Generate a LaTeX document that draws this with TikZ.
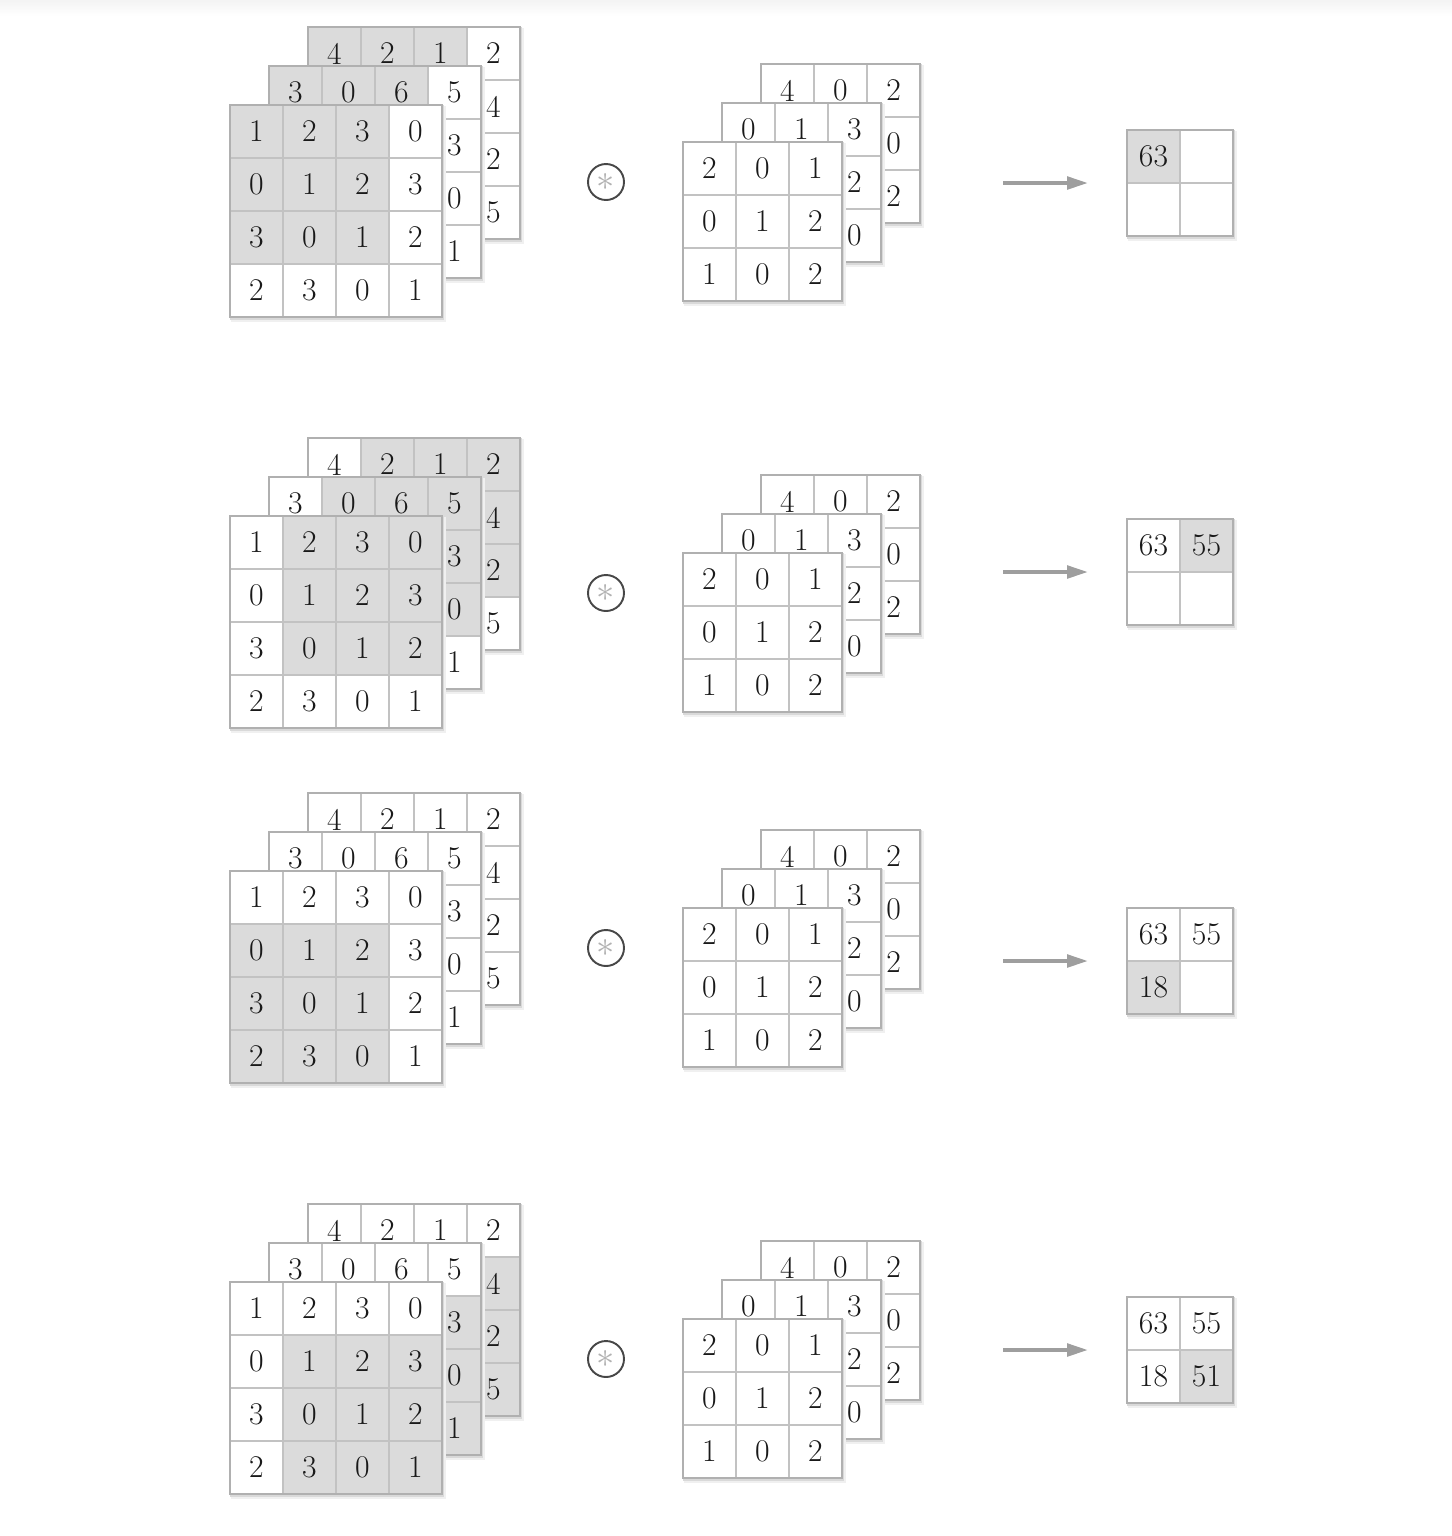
\documentclass[tikz,border=0pt]{standalone}
\usepackage{tikz}
\usetikzlibrary{arrows.meta,positioning}
\definecolor{cellline}{gray}{0.76}
\definecolor{cellshade}{gray}{0.86}
\definecolor{digit}{gray}{0.1}
\tikzset{
  cell/.style={draw=cellline, line width=0.8pt, minimum size=1.06cm,
               inner sep=0pt, text=digit, font=\fontsize{18}{20}\selectfont},
  layeredge/.style={draw=gray!62, line width=0.8pt},
  convop/.style={circle, draw=black!72, line width=1.1pt, minimum size=0.72cm,
                 inner sep=0pt, text=gray!60, font=\huge},
  flowarr/.style={-{Triangle[length=4.2mm, width=2.5mm]}, line width=2.2pt, black!38}
}
% one layer: name, x, y, size, values, shaded rows r1..r2, cols c1..c2
\newcommand{\drawlayer}[9]{%
  \pgfmathsetmacro\side{#4*53}
  \fill[black!6] (#2+1,#3+1) rectangle ++(\side+3,\side+4);
  \fill[black!15] (#2,#3) rectangle ++(\side+1.5,\side+2.5);
  \foreach \val [count=\idx from 0] in {#5} {
    \pgfmathtruncatemacro\ri{floor(\idx/#4)}
    \pgfmathtruncatemacro\ci{\idx-\ri*#4}
    \pgfmathtruncatemacro\sh{(\ri>=#6)&&(\ri<=#7)&&(\ci>=#8)&&(\ci<=#9)}
    \ifnum\sh=1 \def\cf{cellshade}\else\def\cf{white}\fi
    \node[cell, fill=\cf] (#1-\ri-\ci) at (#2+53*\ci+26.5, #3+53*\ri+26.5) {\val};
  }
  \draw[layeredge] (#2,#3) rectangle ++(\side,\side);
}
% input volume: name, y of front layer, shaded window
\newcommand{\inputstack}[6]{%
  \drawlayer{#1c}{308}{#2-78}{4}{4,2,1,2,,,,4,,,,2,,,,5}{#3}{#4}{#5}{#6}
  \drawlayer{#1b}{269}{#2-39}{4}{3,0,6,5,,,,3,,,,0,,,,1}{#3}{#4}{#5}{#6}
  \drawlayer{#1a}{230}{#2}{4}{1,2,3,0,0,1,2,3,3,0,1,2,2,3,0,1}{#3}{#4}{#5}{#6}
}
% filter volume: name, y of front input layer
\newcommand{\kernelstack}[2]{%
  \drawlayer{#1c}{761}{#2-41}{3}{4,0,2,,,0,,,2}{9}{9}{9}{9}
  \drawlayer{#1b}{722}{#2-2}{3}{0,1,3,,,2,,,0}{9}{9}{9}{9}
  \drawlayer{#1a}{683}{#2+37}{3}{2,0,1,0,1,2,1,0,2}{9}{9}{9}{9}
}

\begin{document}
\begin{tikzpicture}[x=0.02cm, y=-0.02cm]
  \useasboundingbox (0,0) rectangle (1452,1536);
  \shade[top color=gray!9, bottom color=white] (0,0) rectangle (1452,16);

  % step 1
  \inputstack{inA}{105}{0}{2}{0}{2}
  \kernelstack{kA}{105}
  \node[convop] (opA) at (606,182) {$\ast$};
  \drawlayer{outA}{1127}{130}{2}{63,,,}{0}{0}{0}{0}
  \coordinate (sA) at (1003,183);
  \coordinate (tA) at (1088,183);
  \draw[flowarr] (sA) -- (tA);

  % step 2
  \inputstack{inB}{516}{0}{2}{1}{3}
  \kernelstack{kB}{516}
  \node[convop] (opB) at (606,593) {$\ast$};
  \drawlayer{outB}{1127}{519}{2}{63,55,,}{0}{0}{1}{1}
  \coordinate (sB) at (1003,572);
  \coordinate (tB) at (1088,572);
  \draw[flowarr] (sB) -- (tB);

  % step 3
  \inputstack{inC}{871}{1}{3}{0}{2}
  \kernelstack{kC}{871}
  \node[convop] (opC) at (606,948) {$\ast$};
  \drawlayer{outC}{1127}{908}{2}{63,55,18,}{1}{1}{0}{0}
  \coordinate (sC) at (1003,961);
  \coordinate (tC) at (1088,961);
  \draw[flowarr] (sC) -- (tC);

  % step 4
  \inputstack{inD}{1282}{1}{3}{1}{3}
  \kernelstack{kD}{1282}
  \node[convop] (opD) at (606,1359) {$\ast$};
  \drawlayer{outD}{1127}{1297}{2}{63,55,18,51}{1}{1}{1}{1}
  \coordinate (sD) at (1003,1350);
  \coordinate (tD) at (1088,1350);
  \draw[flowarr] (sD) -- (tD);
\end{tikzpicture}
\end{document}
